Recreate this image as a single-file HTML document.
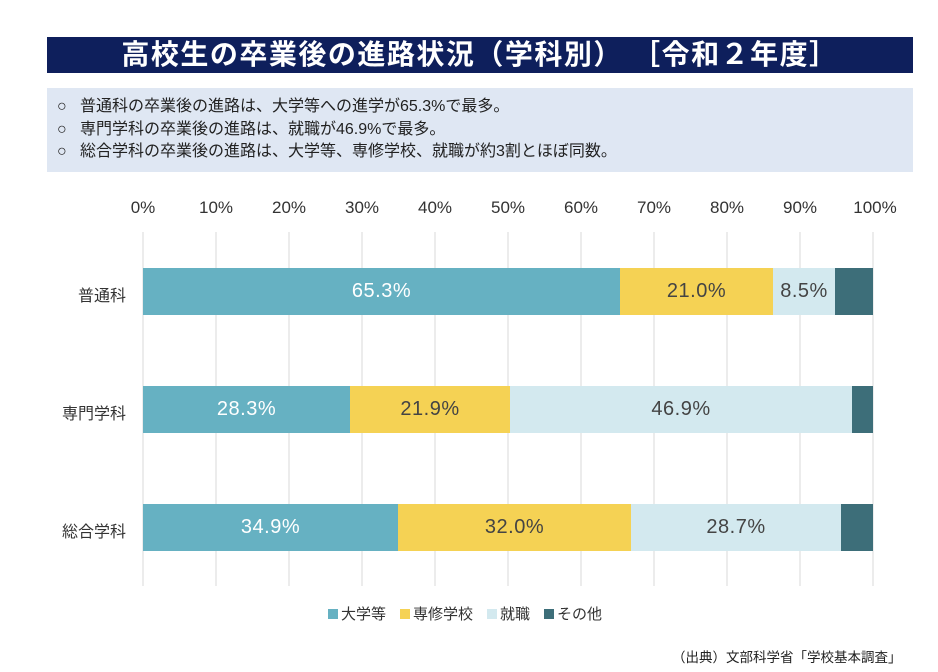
<!DOCTYPE html>
<html><head><meta charset="utf-8"><style>
body{margin:0;width:938px;height:672px;background:#fff;position:relative;overflow:hidden;font-family:"Liberation Sans","Noto Sans CJK JP",sans-serif;}
div{position:absolute;box-sizing:border-box}
.t{white-space:nowrap}
.g{top:232px;height:354px;width:2px;background:#ececec}
.ax{top:198px;font-size:17px;color:#333;width:60px;text-align:center}
.b{height:47px;font-size:20px;letter-spacing:0.5px;color:#444;display:flex;align-items:center;justify-content:center}
.w{color:#fff}
.lab{font-size:16px;color:#333;right:812px;text-align:right}
</style></head><body>
<div style="left:47px;top:37px;width:866px;height:36px;background:#0e1f5c;color:#fff;font-size:28px;font-weight:bold;text-align:center;line-height:36px;letter-spacing:1.5px" class="t">高校生の卒業後の進路状況（学科別） ［令和２年度］</div>
<div style="left:47px;top:88px;width:866px;height:84px;background:#dfe7f3;font-size:16px;color:#222;line-height:22.5px;padding:8px 0 0 10px" class="t">○&nbsp;&nbsp; 普通科の卒業後の進路は、大学等への進学が65.3%で最多。<br>○&nbsp;&nbsp; 専門学科の卒業後の進路は、就職が46.9%で最多。<br>○&nbsp;&nbsp; 総合学科の卒業後の進路は、大学等、専修学校、就職が約3割とほぼ同数。</div>
<div class="g" style="left:142px"></div><div class="g" style="left:215px"></div><div class="g" style="left:288px"></div><div class="g" style="left:361px"></div><div class="g" style="left:434px"></div><div class="g" style="left:507px"></div><div class="g" style="left:580px"></div><div class="g" style="left:653px"></div><div class="g" style="left:726px"></div><div class="g" style="left:799px"></div><div class="g" style="left:872px"></div>
<div class="ax" style="left:113px">0%</div><div class="ax" style="left:186px">10%</div><div class="ax" style="left:259px">20%</div><div class="ax" style="left:332px">30%</div><div class="ax" style="left:405px">40%</div><div class="ax" style="left:478px">50%</div><div class="ax" style="left:551px">60%</div><div class="ax" style="left:624px">70%</div><div class="ax" style="left:697px">80%</div><div class="ax" style="left:770px">90%</div><div class="ax" style="left:845px">100%</div>
<div class="lab t" style="top:282px">普通科</div>
<div class="lab t" style="top:400px">専門学科</div>
<div class="lab t" style="top:518px">総合学科</div>
<div class="b w" style="top:268px;left:143px;width:477px;background:#66b1c2">65.3%</div>
<div class="b" style="top:268px;left:620px;width:153px;background:#f5d254">21.0%</div>
<div class="b" style="top:268px;left:773px;width:62px;background:#d3e9ef">8.5%</div>
<div class="b" style="top:268px;left:835px;width:38px;background:#3d6e79"></div>
<div class="b w" style="top:386px;left:143px;width:207px;background:#66b1c2">28.3%</div>
<div class="b" style="top:386px;left:350px;width:160px;background:#f5d254">21.9%</div>
<div class="b" style="top:386px;left:510px;width:342px;background:#d3e9ef">46.9%</div>
<div class="b" style="top:386px;left:852px;width:21px;background:#3d6e79"></div>
<div class="b w" style="top:504px;left:143px;width:255px;background:#66b1c2">34.9%</div>
<div class="b" style="top:504px;left:398px;width:233px;background:#f5d254">32.0%</div>
<div class="b" style="top:504px;left:631px;width:210px;background:#d3e9ef">28.7%</div>
<div class="b" style="top:504px;left:841px;width:32px;background:#3d6e79"></div>
<div style="left:328px;top:609px;width:10px;height:10px;background:#66b1c2"></div>
<div class="t" style="left:341px;top:603px;font-size:15px;color:#333">大学等</div>
<div style="left:400px;top:609px;width:10px;height:10px;background:#f5d254"></div>
<div class="t" style="left:413px;top:603px;font-size:15px;color:#333">専修学校</div>
<div style="left:487px;top:609px;width:10px;height:10px;background:#d3e9ef"></div>
<div class="t" style="left:500px;top:603px;font-size:15px;color:#333">就職</div>
<div style="left:544px;top:609px;width:10px;height:10px;background:#3d6e79"></div>
<div class="t" style="left:557px;top:603px;font-size:15px;color:#333">その他</div>
<div class="t" style="left:672px;top:646px;font-size:13.5px;color:#222">（出典）文部科学省「学校基本調査」</div>
</body></html>
